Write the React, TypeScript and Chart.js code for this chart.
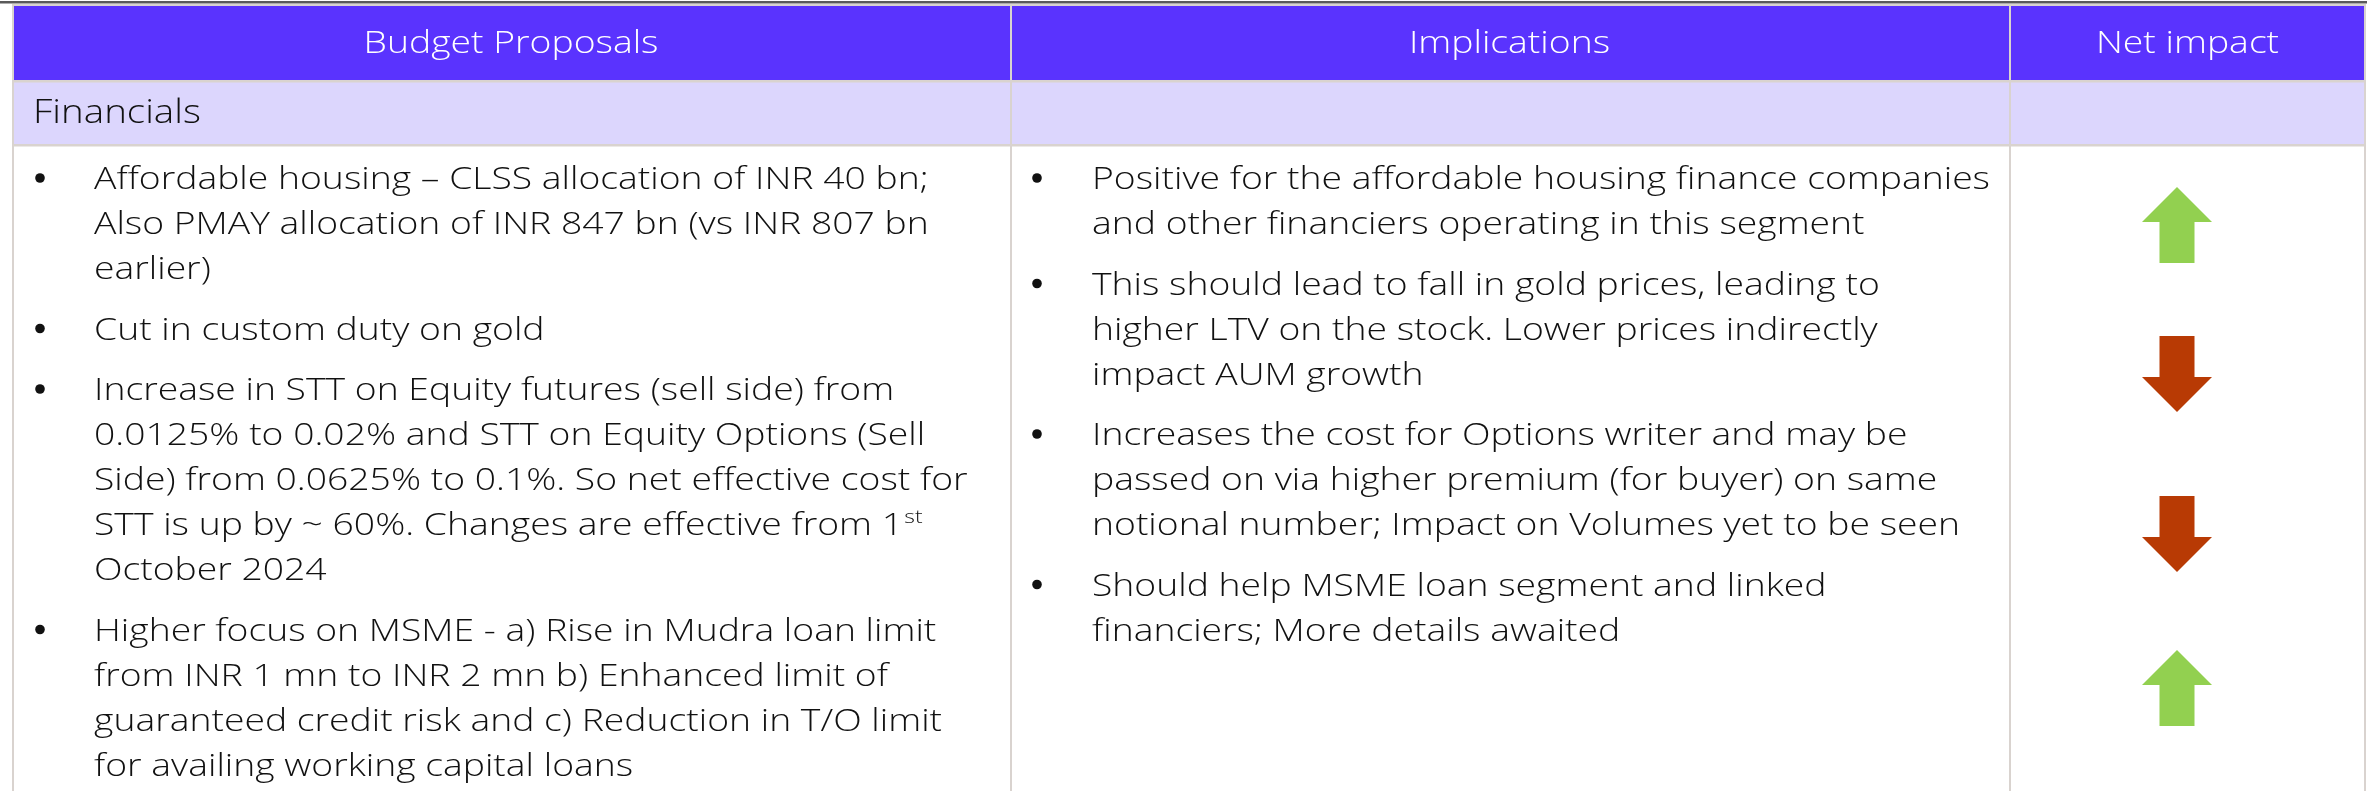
import React, { useEffect, useRef } from "react";
import { Chart, registerables } from "chart.js";

Chart.register(...registerables);

// ---------- content ----------
const headers = ["Budget Proposals", "Implications", "Net impact"];
const sectionLabel = "Financials";

const proposals: string[][] = [
  [
    "Affordable housing \u2013 CLSS allocation of INR 40 bn;",
    "Also PMAY allocation of INR 847 bn (vs INR 807 bn",
    "earlier)",
  ],
  ["Cut in custom duty on gold"],
  [
    "Increase in STT on Equity futures (sell side) from",
    "0.0125% to 0.02% and STT on Equity Options (Sell",
    "Side) from 0.0625% to 0.1%. So net effective cost for",
    "STT is up by ~ 60%. Changes are effective from 1^st",
    "October 2024",
  ],
  [
    "Higher focus on MSME - a) Rise in Mudra loan limit",
    "from INR 1 mn to INR 2 mn b) Enhanced limit of",
    "guaranteed credit risk and c) Reduction in T/O limit",
    "for availing working capital loans",
  ],
];

const implications: string[][] = [
  [
    "Positive for the affordable housing finance companies",
    "and other financiers operating in this segment",
  ],
  [
    "This should lead to fall in gold prices, leading to",
    "higher LTV on the stock. Lower prices indirectly",
    "impact AUM growth",
  ],
  [
    "Increases the cost for Options writer and may be",
    "passed on via higher premium (for buyer) on same",
    "notional number; Impact on Volumes yet to be seen",
  ],
  ["Should help MSME loan segment and linked", "financiers; More details awaited"],
];

// +1 = positive (up arrow), -1 = negative (down arrow)
const impacts = [1, -1, -1, 1];

// ---------- layout / style ----------
const W = 2367;
const H = 791;
const layout = {
  colEdges: [12, 1010, 2009, 2366],
  headerTop: 6,
  headerBottom: 80,
  sectionBottom: 145,
  bulletX: [40, 1037],
  textX: [94, 1092],
  firstBaseline: 189,
  lineGap: 45,
  paraGap: 60.5,
  arrowX: 2177,
  arrowY: [225, 374, 534, 688],
};
const style = {
  purple: "#5A33FE",
  lavender: "#DCD6FD",
  border: "#D9D3CF",
  topRule: "#5A5A5A",
  up: "#92D050",
  down: "#B83A04",
  bodySize: 31,
  headSize: 32,
  refLine: "Positive for the affordable housing finance companies",
  refWidth: 898,
  refHead: "Budget Proposals",
  refHeadWidth: 295,
};

let FONT = "400 {s}px 'Open Sans', sans-serif";
function pickFont() {
  const c = document.createElement("canvas").getContext("2d")!;
  const fams = ["Open Sans", "Noto Sans", "Lato", "Roboto", "Inter"];
  for (const f of fams) {
    c.font = `300 40px '${f}', monospace`;
    const a = c.measureText(style.refLine).width;
    c.font = `400 40px '${f}', monospace`;
    const b = c.measureText(style.refLine).width;
    c.font = `40px monospace`;
    const m = c.measureText(style.refLine).width;
    if (Math.abs(b - m) > 1 && Math.abs(a - b) > 0.5) {
      FONT = `300 {s}px '${f}', sans-serif`;
      return;
    }
  }
}
const f = (s: number) => FONT.replace("{s}", String(s));

function makeArrow(up: boolean, color: string) {
  const c = document.createElement("canvas");
  c.width = 72;
  c.height = 76;
  const g = c.getContext("2d")!;
  g.fillStyle = color;
  g.beginPath();
  if (up) {
    g.moveTo(36, 0);
    g.lineTo(71, 35);
    g.lineTo(53.5, 35);
    g.lineTo(53.5, 76);
    g.lineTo(18.5, 76);
    g.lineTo(18.5, 35);
    g.lineTo(1, 35);
  } else {
    g.moveTo(18.5, 0);
    g.lineTo(53.5, 0);
    g.lineTo(53.5, 41);
    g.lineTo(71, 41);
    g.lineTo(36, 76);
    g.lineTo(1, 41);
    g.lineTo(18.5, 41);
  }
  g.closePath();
  g.fill();
  return c;
}

const tablePlugin = {
  id: "tablePlugin",
  beforeDatasetsDraw(chart: any) {
    const ctx: CanvasRenderingContext2D = chart.ctx;
    const xs = chart.scales.x;
    const ys = chart.scales.y;
    const px = (v: number) => xs.getPixelForValue(v);
    const py = (v: number) => ys.getPixelForValue(v);
    const [c0, c1, c2, c3] = layout.colEdges.map(px);
    const hTop = py(layout.headerTop);
    const hBot = py(layout.headerBottom);
    const sBot = py(layout.sectionBottom);
    const bottom = py(H);

    ctx.save();
    ctx.fillStyle = "#fff";
    ctx.fillRect(0, 0, W, H);

    // top rule
    ctx.fillStyle = style.topRule;
    ctx.fillRect(0, py(1), W, 2.5);

    // header
    ctx.fillStyle = style.purple;
    ctx.fillRect(c0, hTop, c3 - c0, hBot - hTop);
    // section row
    ctx.fillStyle = style.lavender;
    ctx.fillRect(c0, hBot, c3 - c0, sBot - hBot);

    // borders
    ctx.fillStyle = style.border;
    ctx.fillRect(c0, hTop - 2, c3 - c0, 2);
    ctx.fillRect(c0, hBot, c3 - c0, 2.5);
    ctx.fillRect(c0, sBot - 1, c3 - c0, 2.5);
    [c0, c1, c2, c3].forEach((x, i) => {
      ctx.fillRect(i === 3 ? x - 2 : x, hTop - 2, 2, bottom - hTop + 2);
    });

    // header text
    ctx.textBaseline = "middle";
    ctx.font = f(style.headSize);
    const hsx = style.refHeadWidth / ctx.measureText(style.refHead).width;
    ctx.fillStyle = "#fff";
    const centers = [(c0 + c1) / 2, (c1 + c2) / 2, (c2 + c3) / 2];
    headers.forEach((t, i) => {
      ctx.save();
      ctx.translate(centers[i], (hTop + hBot) / 2 + 1);
      ctx.scale(hsx, 1);
      ctx.textAlign = "center";
      ctx.fillText(t, 0, 0);
      ctx.restore();
    });

    // section label
    ctx.font = f(style.bodySize + 2);
    ctx.fillStyle = "#111";
    ctx.textAlign = "left";
    ctx.save();
    ctx.translate(px(33), (hBot + sBot) / 2 + 1);
    ctx.scale(hsx, 1);
    ctx.fillText(sectionLabel, 0, 0);
    ctx.restore();

    // body text
    ctx.textBaseline = "alphabetic";
    ctx.font = f(style.bodySize);
    const sx = style.refWidth / ctx.measureText(style.refLine).width;
    const drawLine = (line: string, x: number, y: number) => {
      ctx.save();
      ctx.translate(x, y);
      ctx.scale(sx, 1);
      const parts = line.split("^");
      ctx.font = f(style.bodySize);
      ctx.fillText(parts[0], 0, 0);
      if (parts[1]) {
        const w = ctx.measureText(parts[0]).width;
        ctx.font = f(Math.round(style.bodySize * 0.62));
        ctx.fillText(parts[1], w + 1, -12);
      }
      ctx.restore();
    };
    [proposals, implications].forEach((col, ci) => {
      let y = layout.firstBaseline;
      col.forEach((para, pi) => {
        if (pi > 0) y += layout.paraGap - layout.lineGap;
        ctx.fillStyle = "#111";
        ctx.beginPath();
        ctx.arc(px(layout.bulletX[ci]), py(y - 11), 4.8, 0, Math.PI * 2);
        ctx.fill();
        para.forEach((line, li) => {
          if (li > 0) y += layout.lineGap;
          drawLine(line, px(layout.textX[ci]), py(y));
        });
        y += layout.lineGap;
      });
    });
    ctx.restore();
  },
};

export default function App() {
  const ref = useRef<HTMLCanvasElement | null>(null);
  useEffect(() => {
    if (!ref.current) return;
    pickFont();
    const upImg = makeArrow(true, style.up);
    const downImg = makeArrow(false, style.down);
    const chart = new Chart(ref.current, {
      type: "scatter",
      data: {
        datasets: [
          {
            label: "Net impact",
            data: impacts.map((v, i) => ({ x: layout.arrowX, y: layout.arrowY[i], v })) as any,
            pointStyle: ((c: any) => (impacts[c.dataIndex] > 0 ? upImg : downImg)) as any,
            pointRadius: 36,
            backgroundColor: ((c: any) => (impacts[c.dataIndex] > 0 ? style.up : style.down)) as any,
            clip: false as any,
          },
        ],
      },
      options: {
        responsive: false,
        maintainAspectRatio: false,
        animation: false,
        devicePixelRatio: 1,
        layout: { padding: 0, autoPadding: false } as any,
        events: [],
        scales: {
          x: { type: "linear", min: 0, max: W, display: false },
          y: { type: "linear", min: 0, max: H, reverse: true, display: false },
        },
        plugins: { legend: { display: false }, tooltip: { enabled: false } },
      },
      plugins: [tablePlugin],
    });
    return () => chart.destroy();
  }, []);
  return (
    <div style={{ position: "fixed", left: 0, top: 0, width: W, height: H, background: "#fff" }}>
      <canvas ref={ref} width={W} height={H} style={{ display: "block", width: W, height: H }} />
    </div>
  );
}
